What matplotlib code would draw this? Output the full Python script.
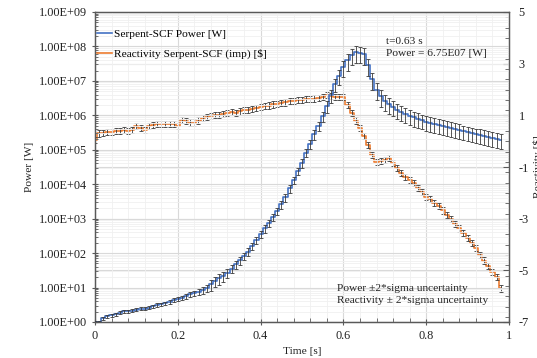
import matplotlib
matplotlib.use("Agg")
import matplotlib.pyplot as plt
import numpy as np
from matplotlib.ticker import FuncFormatter, MultipleLocator, LogLocator, NullFormatter

plt.rcParams['font.family'] = ['Liberation Serif', 'DejaVu Serif']
plt.rcParams['axes.unicode_minus'] = False

# ---------------- data ----------------
time = [
    0.00, 0.01, 0.02, 0.03, 0.04, 0.05, 0.06, 0.07, 0.08, 0.09,
    0.10, 0.11, 0.12, 0.13, 0.14, 0.15, 0.16, 0.17, 0.18, 0.19,
    0.20, 0.21, 0.22, 0.23, 0.24, 0.25, 0.26, 0.27, 0.28, 0.29,
    0.30, 0.31, 0.32, 0.33, 0.34, 0.35, 0.36, 0.37, 0.38, 0.39,
    0.40, 0.41, 0.42, 0.43, 0.44, 0.45, 0.46, 0.47, 0.48, 0.49,
    0.50, 0.51, 0.52, 0.53, 0.54, 0.55, 0.56, 0.57, 0.58, 0.59,
    0.60, 0.61, 0.62, 0.63, 0.64, 0.65, 0.66, 0.67, 0.68, 0.69,
    0.70, 0.71, 0.72, 0.73, 0.74, 0.75, 0.76, 0.77, 0.78, 0.79,
    0.80, 0.81, 0.82, 0.83, 0.84, 0.85, 0.86, 0.87, 0.88, 0.89,
    0.90, 0.91, 0.92, 0.93, 0.94, 0.95, 0.96, 0.97, 0.98,
]

power = [
    1.00, 1.02, 1.30, 1.45, 1.58, 1.70, 1.85, 2.05, 2.05, 2.15,
    2.25, 2.40, 2.45, 2.60, 2.85, 3.10, 3.25, 3.50, 3.90, 4.30,
    4.70, 5.10, 5.50, 6.30, 6.90, 7.60, 8.40, 9.50, 12.5, 15.5,
    18.5, 22.0, 27.0, 35.0, 47.0, 62.0, 82.0, 110, 160, 240,
    355, 525, 741, 1.12e3, 1.66e3, 2.63e3, 4.17e3, 7.59e3, 1.32e4, 2.40e4,
    4.17e4, 8.32e4, 1.51e5, 2.82e5, 5.01e5, 9.55e5, 1.91e6, 3.80e6, 7.94e6, 1.41e7,
    2.51e7, 3.98e7, 5.62e7, 6.75e7, 6.60e7, 5.90e7, 2.82e7, 1.12e7, 5.62e6, 3.55e6,
    2.63e6, 2.09e6, 1.74e6, 1.45e6, 1.26e6, 1.10e6, 9.77e5, 8.71e5, 7.94e5, 7.24e5,
    6.61e5, 6.03e5, 5.62e5, 5.25e5, 4.90e5, 4.57e5, 4.27e5, 3.98e5, 3.72e5, 3.47e5,
    3.24e5, 3.02e5, 2.82e5, 2.69e5, 2.51e5, 2.34e5, 2.19e5, 2.04e5, 1.91e5,
]

# relative 2-sigma uncertainty of power
power_rel_err = [
    0.05, 0.08, 0.10, 0.10, 0.10, 0.10, 0.10, 0.10, 0.10, 0.10,
    0.10, 0.10, 0.10, 0.10, 0.12, 0.12, 0.12, 0.12, 0.14, 0.14,
    0.15, 0.15, 0.16, 0.16, 0.18, 0.18, 0.20, 0.22, 0.35, 0.35,
    0.35, 0.32, 0.28, 0.25, 0.25, 0.25, 0.25, 0.25, 0.25, 0.25,
    0.25, 0.25, 0.25, 0.25, 0.25, 0.25, 0.25, 0.25, 0.25, 0.25,
    0.28, 0.28, 0.30, 0.30, 0.32, 0.35, 0.38, 0.40, 0.42, 0.45,
    0.48, 0.50, 0.50, 0.50, 0.50, 0.50, 0.50, 0.50, 0.50, 0.50,
    0.48, 0.48, 0.46, 0.46, 0.46, 0.46, 0.46, 0.46, 0.46, 0.46,
    0.46, 0.46, 0.46, 0.46, 0.46, 0.46, 0.46, 0.46, 0.46, 0.46,
    0.46, 0.46, 0.46, 0.46, 0.46, 0.46, 0.46, 0.46, 0.46,
]

reactivity = [
    0.05, 0.30, 0.33, 0.35, 0.36, 0.38, 0.39, 0.42, 0.40, 0.44,
    0.58, 0.50, 0.44, 0.60, 0.64, 0.65, 0.66, 0.67, 0.66, 0.68,
    0.60, 0.82, 0.78, 0.72, 0.72, 0.80, 0.90, 0.95, 0.97, 1.02,
    1.00, 1.05, 1.08, 1.12, 1.10, 1.15, 1.20, 1.22, 1.25, 1.28,
    1.33, 1.35, 1.38, 1.42, 1.45, 1.48, 1.50, 1.54, 1.56, 1.58,
    1.60, 1.62, 1.63, 1.65, 1.66, 1.70, 1.78, 1.75, 1.72, 1.72,
    1.70, 1.40, 1.10, 0.80, 0.50, 0.20, -0.15, -0.55, -0.80, -0.78,
    -0.72, -0.66, -0.85, -1.05, -1.22, -1.38, -1.50, -1.62, -1.80, -1.98,
    -2.15, -2.25, -2.38, -2.50, -2.68, -2.86, -3.00, -3.20, -3.38, -3.55,
    -3.76, -3.95, -4.15, -4.40, -4.62, -4.82, -5.05, -5.25, -5.70,
]
reactivity_err = 0.12  # 2-sigma, $

left_ticks = [1e0, 1e1, 1e2, 1e3, 1e4, 1e5, 1e6, 1e7, 1e8, 1e9]
right_ticks = [-7, -5, -3, -1, 1, 3, 5]
x_ticks = [0, 0.2, 0.4, 0.6, 0.8, 1]
x_ticklabels = ["0", "0.2", "0.4", "0.6", "0.8", "1"]

# ---------------- figure ----------------
W, H = 537, 358
fig = plt.figure(figsize=(W / 100, H / 100), dpi=100)
ax = fig.add_axes([95 / W, (H - 322) / H, (509 - 95) / W, (322 - 12) / H])
ax2 = ax.twinx()
ax.set_zorder(ax2.get_zorder() + 1)
ax.patch.set_visible(False)

blue = '#4472C4'
orange = '#ED7D31'
errc = '#3a3a3a'
spine_c = '#595959'
txt_c = '#222222'

t = np.array(time)
p = np.array(power)
pr = np.array(power_rel_err)
r = np.array(reactivity)

# power
ax.plot(t, p, drawstyle='steps-mid', color=blue, lw=1.2, zorder=3,
        label='Serpent-SCF Power [W]')
ax.errorbar(t, p, yerr=p * pr, fmt='none', ecolor=errc, elinewidth=0.6,
            capsize=1.6, capthick=0.6, zorder=4)

# reactivity
ax2.plot(t, r, drawstyle='steps-mid', color=orange, lw=1.2, zorder=3)
ax2.errorbar(t, r, yerr=reactivity_err, fmt='none', ecolor=errc, elinewidth=0.6,
             capsize=1.6, capthick=0.6, zorder=4)

# legend handle for reactivity on main axes
ax.plot([], [], color=orange, lw=1.2, label='Reactivity Serpent-SCF (imp) [$]')

ax.set_yscale('log')
ax.set_ylim(1e0, 1e9)
ax.set_xlim(0, 1)
ax2.set_ylim(-7, 5)

ax.set_yticks(left_ticks)
ax.yaxis.set_major_formatter(FuncFormatter(lambda v, pos: f"{v:.2E}"))
ax.yaxis.set_minor_locator(LogLocator(base=10, subs=np.arange(2, 10), numticks=100))
ax.yaxis.set_minor_formatter(NullFormatter())
ax.set_xticks(x_ticks)
ax.set_xticklabels(x_ticklabels)
ax.xaxis.set_minor_locator(MultipleLocator(0.04))
ax2.set_yticks(right_ticks)
ax2.set_yticklabels([str(v) for v in right_ticks])
ax2.yaxis.set_minor_locator(MultipleLocator(0.4))

# grids
ax.grid(which='major', axis='both', color='#d9d9d9', lw=0.8, zorder=0)
ax.grid(which='minor', axis='both', color='#f0f0f0', lw=0.6, zorder=0)
ax2.grid(which='major', axis='y', color='#d9d9d9', lw=0.8, zorder=0)
ax2.set_axisbelow(True)
ax.set_axisbelow(True)

fs = 8.2
tfs = 8.8
ax.tick_params(axis='y', which='major', direction='inout', length=5, width=0.8,
               labelsize=tfs, colors=spine_c, labelcolor=txt_c, pad=3)
ax.tick_params(axis='y', which='minor', direction='in', length=2, width=0.6, colors=spine_c)
ax.tick_params(axis='x', which='major', direction='inout', length=5, width=0.8,
               labelsize=tfs, colors=spine_c, labelcolor=txt_c, pad=3)
ax.tick_params(axis='x', which='minor', direction='in', length=3, width=0.6, colors=spine_c)
ax.tick_params(top=False, right=False, which='both')
ax2.tick_params(axis='y', which='major', direction='in', length=4, width=0.8,
                labelsize=tfs, colors=spine_c, labelcolor=txt_c, pad=7)
ax2.tick_params(axis='y', which='minor', direction='in', length=3, width=0.6, colors=spine_c)
for a in (ax, ax2):
    for s in a.spines.values():
        s.set_color(spine_c)
        s.set_linewidth(0.9)

ax.set_xlabel('Time [s]', fontsize=fs, labelpad=4, color=txt_c)
ax.set_ylabel('Power [W]', fontsize=fs, labelpad=4, color=txt_c)
fig.text(538 / W, 1 - 167 / H, 'Reactivity [$]', rotation=90, fontsize=fs,
         ha='center', va='center', color=txt_c)

leg = ax.legend(loc='upper left', bbox_to_anchor=(0.005, 0.945), frameon=False,
                fontsize=fs, handlelength=1.3, handletextpad=0.15,
                labelspacing=0.85, borderaxespad=0, borderpad=0)

ax.text(0.703, 0.886, 't=0.63 s\nPower = 6.75E07 [W]', transform=ax.transAxes,
        fontsize=fs, va='center', ha='left', linespacing=1.5, color=txt_c)
ax.text(0.584, 0.088, 'Power \u00b12*sigma uncertainty\nReactivity \u00b1 2*sigma uncertainty',
        transform=ax.transAxes, fontsize=fs, va='center', ha='left',
        linespacing=1.5, color=txt_c)

fig.savefig('out.png', dpi=100)
